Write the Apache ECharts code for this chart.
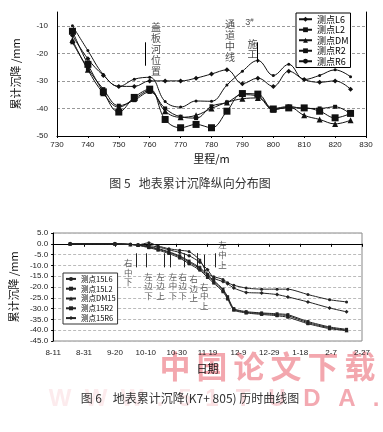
<!DOCTYPE html>
<html><head><meta charset="utf-8">
<script src="https://cdn.jsdelivr.net/npm/echarts@6/dist/echarts.min.js"></script>
<style>html,body{margin:0;padding:0;background:#fff}#c{width:383px;height:432px}</style>
</head><body><div id="c"></div>
<script>
// ---------- Figure 5 data ----------
const x1 = [735,740,745,750,755,760,765,770,775,780,785,790,795,800,805,810,815,820,825];
const sL6 = [-13.5,-22,-28,-32,-32,-30,-30,-30,-29,-27.5,-26,-31,-29,-32,-26.5,-29.5,-30.5,-30,-33];
const sL2 = [-16,-25.5,-33,-39,-37,-34,-40,-43,-43.5,-39.2,-37.8,-35,-35.5,-40,-39.3,-40,-40,-39.4,-42];
const sDM = [-15.2,-26,-34.5,-39.5,-36.5,-33.5,-41,-43.2,-42.5,-40,-37.8,-36.5,-36.2,-40.5,-39.5,-42.5,-44,-45.6,-44.3];
const sR2 = [-12,-24,-34,-41.3,-36,-33,-44,-47,-45.8,-47,-41,-34.6,-34.8,-40.2,-39.8,-39.8,-41,-43.4,-41.8];
const sR6 = [-10,-19,-27.7,-32,-29.4,-28.7,-37.5,-39.5,-37.3,-37.4,-31.5,-26.5,-22.6,-28,-24,-29.5,-28,-26,-28.5];
const names1 = ['测点L6','测点L2','测点DM','测点R2','测点R6'];
const x1Min = 730, x1Max = 830, x1Step = 10;
const y1Min = -50, y1Max = -5, y1Step = 10;

// ---------- Figure 6 data ----------
const days2 = [11,40,50,55,62,68,75,82,88,95,100,104,110,113,117,125,135,145,152,165,179,190];
const s15L6 = [0,0,-0.3,-0.5,0.5,-1,-2.3,-3,-3.6,-7.5,-14,-15.2,-16.5,-18,-19.2,-20.5,-21,-21,-21,-23.5,-25.9,-26.9];
const s15L2 = [0,0,-0.3,-0.5,-1.3,-2.2,-3.7,-5.6,-8,-11,-14.4,-17,-21,-24.5,-30,-31.4,-32,-32.4,-32.8,-36,-38.5,-39.6];
const sDM15 = [0,0,-0.3,-0.6,-1.5,-2.5,-4,-6,-8.5,-11.5,-15,-17.5,-21.5,-25,-30.3,-31.7,-32.3,-32.8,-33.3,-36.5,-38.9,-40];
const s15R2 = [0,0,-0.3,-0.7,-1.8,-2.9,-4.5,-6.6,-9.2,-12.2,-15.6,-18.2,-22.2,-25.6,-30.7,-32,-32.7,-33.3,-34,-37,-39.3,-40.2];
const s15R6 = [0,0,-0.3,-0.5,-0.8,-1.5,-2.8,-4,-5.5,-8.5,-12,-15.9,-17.5,-18.5,-20.5,-22.5,-22.8,-23.5,-24.6,-26.9,-29.7,-31.5];
const names2 = ['测点15L6','测点15L2','测点DM15','测点15R2','测点15R6'];
const xLabels2 = ['8-11','8-31','9-20','10-10','10-30','11 19','12-9','12-29','1-18','2-7','2-27'];
const x2Step = 20;
const y2Min = -45, y2Max = 5, y2Step = 5;

// annotations (data coordinates)
const ann1Text = [
  {pos:[762,-18.5], text:'盖\n板\n河\n位\n置'},
  {pos:[786,-15.4], text:'通\n道\n中\n线'},
  {pos:[793.3,-18.5], text:'施\n工'}
];
const ann1Sup = [{pos:[792.3,-8.9], text:'3#'}];
const ann1Lines = [[758.7,-16,-24.5],[794.7,-16,-23.4]];
const ann2Text = [
  {pos:[48.6,-13.2], text:'右\n中\n下'},
  {pos:[61.8,-19.6], text:'左\n边\n下'},
  {pos:[69.6,-19.6], text:'左\n边\n上'},
  {pos:[77.6,-19.6], text:'左\n中\n下'},
  {pos:[84.0,-19.6], text:'右\n边\n下'},
  {pos:[91.0,-20.6], text:'右\n边\n上'},
  {pos:[97.8,-24.2], text:'右\n中\n上'},
  {pos:[109.6,-5.1], text:'左\n中\n上'}
];
const ann2Lines = [[53.6,-4.4,-10.9],[60,-4.4,-10.9],[72,-4.4,-10.9],[75.9,-4.4,-10.9],[84.7,-4.4,-10.9],[93,-4.3,-12],[98.1,-5,-13.5],[104.9,-4.4,-10.9]];

const CJK = '"Noto Sans CJK SC", sans-serif';
const NUM = '"Liberation Sans", sans-serif';
const ink = '#111';

const sym1 = [['diamond',5],['rect',4],['triangle',6],['rect',7],['circle',3]];
const data1 = [sL6,sL2,sDM,sR2,sR6];
const sym2 = [['circle',3],['rect',3],['triangle',4],['rect',3],['diamond',4]];
const data2 = [s15L6,s15L2,sDM15,s15R2,s15R6];

const series = [];
names1.forEach((n,k)=>{
  series.push({name:n, type:'line', xAxisIndex:0, yAxisIndex:0, smooth:0.4,
    symbol:sym1[k][0], symbolSize:sym1[k][1], showSymbol:true,
    lineStyle:{color:ink,width:1}, itemStyle:{color:ink},
    data:x1.map((x,i)=>[x,data1[k][i]])});
});
names2.forEach((n,k)=>{
  series.push({name:n, type:'line', xAxisIndex:1, yAxisIndex:2, smooth:0.2,
    symbol:sym2[k][0], symbolSize:sym2[k][1],
    lineStyle:{color:'#222',width:1}, itemStyle:{color:'#222'},
    data:days2.map((x,i)=>[x,data2[k][i]])});
});
series.push({type:'scatter', xAxisIndex:0, yAxisIndex:0, symbolSize:0, silent:true,
  label:{show:true, position:'inside', color:'#222', fontFamily:CJK, fontSize:10, lineHeight:10.8,
    formatter:p=>p.data.t},
  data:ann1Text.map(a=>({value:a.pos, t:a.text})),
  markLine:{silent:true, symbol:['none','none'], label:{show:false}, lineStyle:{color:'#000',type:'solid',width:1},
    data:ann1Lines.map(l=>[{coord:[l[0],l[1]]},{coord:[l[0],l[2]]}])}
});
series.push({type:'scatter', xAxisIndex:0, yAxisIndex:0, symbolSize:0, silent:true,
  label:{show:true, position:'inside', color:'#222', fontFamily:NUM, fontSize:9,
    formatter:p=>'{a|3}{b|#}', rich:{a:{fontSize:9,color:'#222'}, b:{fontSize:6,color:'#222',verticalAlign:'top',padding:[0,0,4,0]}}},
  data:ann1Sup.map(a=>({value:a.pos, t:a.text}))
});
series.push({type:'scatter', xAxisIndex:1, yAxisIndex:2, symbolSize:0, silent:true,
  label:{show:true, position:'inside', color:'#333', fontFamily:CJK, fontSize:8.5, lineHeight:9.6,
    formatter:p=>p.data.t},
  data:ann2Text.map(a=>({value:a.pos, t:a.text})),
  markLine:{silent:true, symbol:['none','none'], label:{show:false}, lineStyle:{color:'#222',type:'solid',width:1},
    data:ann2Lines.map(l=>[{coord:[l[0],l[1]]},{coord:[l[0],l[2]]}])}
});

// watermark
const wm1 = '中国论文下载'.split('');
const wm2 = 'WWW.51TUDA.'.split('');
const wm2x = [60,96,132,160,185,212,243,277,312,347,376];
const wm2op = [0.2,0.2,0.2,0.25,0.25,0.3,0.35,0.45,0.85,0.85,0.85];
const graphic = [];
wm1.forEach((ch,i)=>graphic.push({type:'text', x:175+i*37, y:366, z:-10, silent:true,
  style:{text:ch, fill:'#f3a7ae', font:'bold 31px '+CJK, align:'center', verticalAlign:'middle', textAlign:'center', textVerticalAlign:'middle'}}));
wm2.forEach((ch,i)=>graphic.push({type:'text', x:wm2x[i], y:399, z:-10, silent:true,
  style:{text:ch, fill:'#f19aa3', opacity:wm2op[i], font:'bold 24px "Liberation Sans", sans-serif', align:'center', verticalAlign:'middle', textAlign:'center', textVerticalAlign:'middle'}}));
graphic.push({type:'text', x:190, y:183, z:10, style:{text:'图 5   地表累计沉降纵向分布图', fill:'#333', font:'12px '+CJK, align:'center', verticalAlign:'middle', textAlign:'center', textVerticalAlign:'middle'}});
graphic.push({type:'text', x:190, y:398, z:10, style:{text:'图 6    地表累计沉降(K7+ 805) 历时曲线图', fill:'#333', font:'12px '+CJK, align:'center', verticalAlign:'middle', textAlign:'center', textVerticalAlign:'middle'}});

const chart = echarts.init(document.getElementById('c'), null, {renderer:'canvas'});
chart.setOption({
  animation:false,
  backgroundColor:'#fff',
  grid:[
    {left:57, top:12, width:309, height:124, containLabel:false},
    {left:45, top:233, width:317, height:108, show:true, borderColor:'#888', borderWidth:1, backgroundColor:'transparent'}
  ],
  legend:[
    {data:names1, orient:'vertical', left:296, top:13, itemWidth:13, itemHeight:6, itemGap:0, padding:[1,2],
     borderColor:'#000', borderWidth:1, backgroundColor:'#fff',
     textStyle:{fontFamily:CJK, fontSize:9, lineHeight:10.5, color:'#000'}},
    {data:names2, orient:'vertical', left:63, top:273, itemWidth:10, itemHeight:5, itemGap:0, padding:[1,2],
     borderColor:'#333', borderWidth:1, backgroundColor:'#fff',
     textStyle:{fontFamily:CJK, fontSize:7.5, lineHeight:9.8, color:'#000'}}
  ],
  xAxis:[
    {type:'value', gridIndex:0, min:x1Min, max:x1Max, interval:x1Step,
     name:'里程/m', nameLocation:'middle', nameGap:17, nameTextStyle:{fontFamily:CJK, fontSize:11, color:'#111'},
     axisLine:{lineStyle:{color:'#000'}}, axisTick:{show:true, length:2, lineStyle:{color:'#000'}},
     axisLabel:{fontFamily:NUM, fontSize:8, color:'#222', margin:5}, splitLine:{show:false}},
    {type:'value', gridIndex:1, min:0, max:200, interval:x2Step,
     name:'日期', nameLocation:'middle', nameGap:22, nameTextStyle:{fontFamily:CJK, fontSize:11, color:'#111'},
     axisLine:{lineStyle:{color:'#000'}}, axisTick:{show:true, length:3, lineStyle:{color:'#000'}},
     axisLabel:{fontFamily:NUM, fontSize:8, color:'#222', margin:8, formatter:v=>xLabels2[Math.round(v/x2Step)]},
     splitLine:{show:false}}
  ],
  yAxis:[
    {type:'value', gridIndex:0, min:y1Min, max:y1Max, interval:y1Step,
     name:'累计沉降 /mm', nameLocation:'middle', nameGap:36, nameRotate:90,
     nameTextStyle:{fontFamily:CJK, fontSize:11, color:'#111'},
     axisLine:{show:true, lineStyle:{color:'#000'}}, axisTick:{show:false},
     axisLabel:{fontFamily:NUM, fontSize:8, color:'#222', margin:9, showMaxLabel:false},
     splitLine:{show:true, showMaxLine:false, showMinLine:false, lineStyle:{color:'#999', type:[3,2], width:1}}},
    {type:'value', gridIndex:0, position:'right', min:y1Min, max:y1Max, interval:y1Step,
     axisLine:{show:true, lineStyle:{color:'#000'}}, axisTick:{show:false}, axisLabel:{show:false}, splitLine:{show:false}},
    {type:'value', gridIndex:1, min:y2Min, max:y2Max, interval:y2Step,
     name:'累计沉降 /mm', nameLocation:'middle', nameGap:28, nameRotate:90,
     nameTextStyle:{fontFamily:CJK, fontSize:11, color:'#111'},
     axisLine:{show:true, lineStyle:{color:'#000'}}, axisTick:{show:true, length:2, lineStyle:{color:'#000'}},
     axisLabel:{fontFamily:NUM, fontSize:8, color:'#222', margin:5, formatter:v=>v.toFixed(1)},
     splitLine:{show:true, lineStyle:{color:'#bbb', type:[3,2], width:1}}}
  ],
  series:series,
  graphic:graphic
});
</script></body></html>
